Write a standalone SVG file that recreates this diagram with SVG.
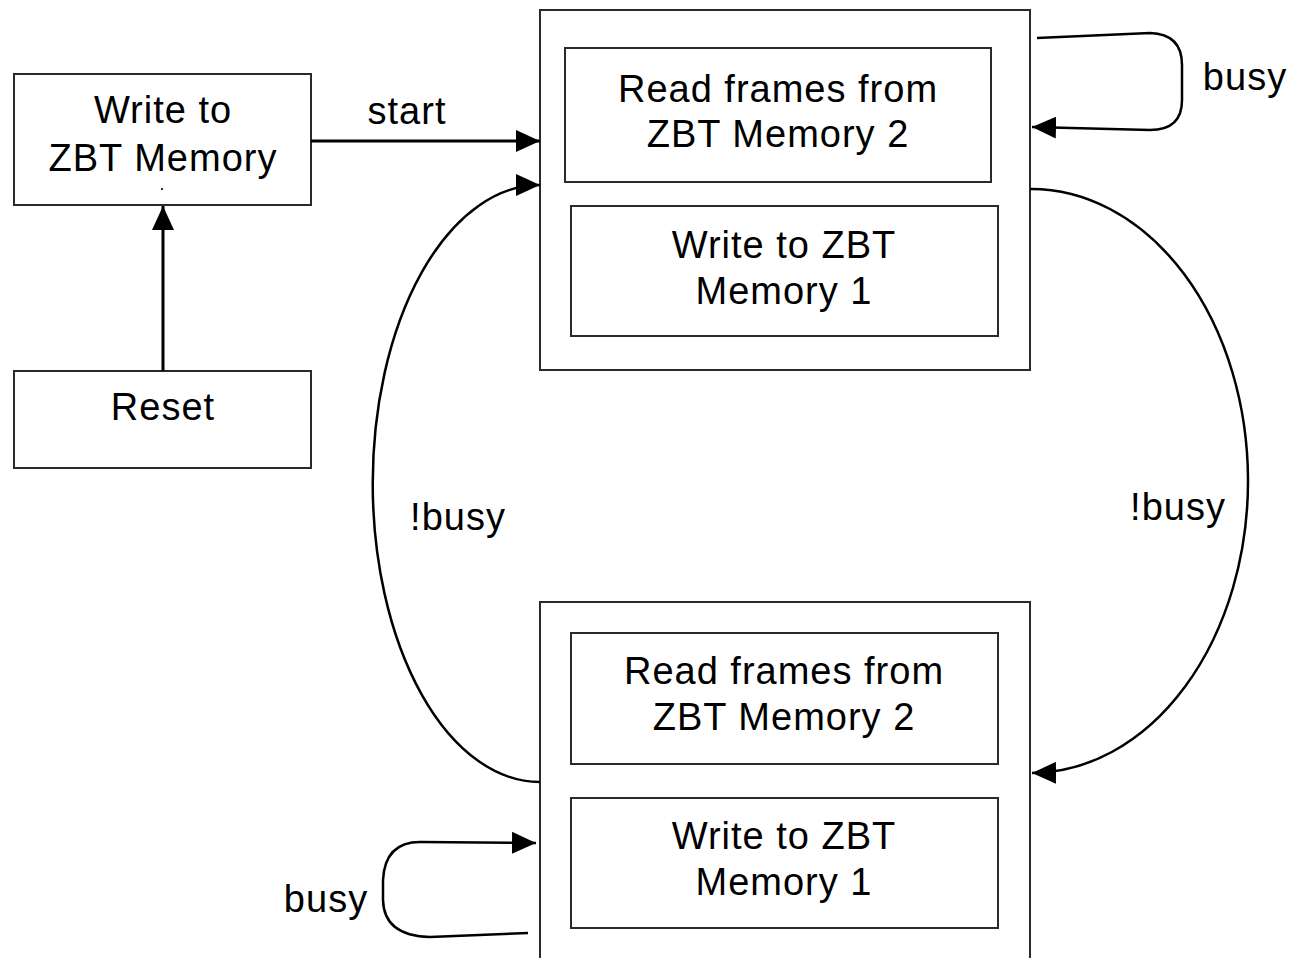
<svg xmlns="http://www.w3.org/2000/svg" width="1291" height="958" viewBox="0 0 1291 958">
  <style>
    .box { fill: none; stroke: #2a2a2a; stroke-width: 2; }
    .lbl { font-family: "Liberation Sans", Arial, sans-serif; font-size: 38px; letter-spacing: 1px; fill: #000; text-anchor: middle; }
    .edge { fill: none; stroke: #000; stroke-width: 3; }
    .curve { fill: none; stroke: #000; stroke-width: 2.5; }
  </style>
  <defs>
    <marker id="arrow" markerUnits="userSpaceOnUse" markerWidth="26" markerHeight="22" refX="24" refY="11" orient="auto">
      <path d="M0,0 L24,11 L0,22 Z" fill="#000"/>
    </marker>
  </defs>
  <rect width="1291" height="958" fill="#fff"/>

  <!-- start-up states -->
  <g id="write-zbt">
    <rect class="box" x="14" y="74" width="297" height="131"/>
    <text class="lbl" x="163" y="123">Write to</text>
    <text class="lbl" x="163" y="171">ZBT Memory</text>
    <rect x="161" y="188" width="2" height="2" fill="#333"/>
  </g>
  <g id="reset">
    <rect class="box" x="14" y="371" width="297" height="97"/>
    <text class="lbl" x="163" y="420">Reset</text>
  </g>

  <!-- upper double-buffer state -->
  <g id="state-a">
    <rect class="box" x="540" y="10" width="490" height="360"/>
    <rect class="box" x="565" y="48" width="426" height="134"/>
    <text class="lbl" x="778" y="102">Read frames from</text>
    <text class="lbl" x="778" y="147">ZBT Memory 2</text>
    <rect class="box" x="571" y="206" width="427" height="130"/>
    <text class="lbl" x="784" y="258">Write to ZBT</text>
    <text class="lbl" x="784" y="304">Memory 1</text>
  </g>

  <!-- lower double-buffer state -->
  <g id="state-b">
    <rect class="box" x="540" y="602" width="490" height="380"/>
    <rect class="box" x="571" y="633" width="427" height="131"/>
    <text class="lbl" x="784" y="684">Read frames from</text>
    <text class="lbl" x="784" y="730">ZBT Memory 2</text>
    <rect class="box" x="571" y="798" width="427" height="130"/>
    <text class="lbl" x="784" y="849">Write to ZBT</text>
    <text class="lbl" x="784" y="895">Memory 1</text>
  </g>

  <!-- transitions -->
  <g id="connectors">
    <line class="edge" x1="163" y1="371" x2="163" y2="206" marker-end="url(#arrow)"/>
    <line class="edge" x1="311" y1="141" x2="540" y2="141" marker-end="url(#arrow)"/>
    <text class="lbl" x="407" y="124">start</text>

    <path class="curve" d="M1037,38 L1150,33 Q1182,34 1182,65 L1182,100 Q1182,130 1150,130 L1032,127" marker-end="url(#arrow)"/>
    <text class="lbl" x="1245" y="90">busy</text>

    <path class="curve" d="M1030,189 A217,292 0 0 1 1032,773" marker-end="url(#arrow)"/>
    <text class="lbl" x="1178" y="520">!busy</text>

    <path class="curve" d="M540,782 A167,298 0 0 1 540,185" marker-end="url(#arrow)"/>
    <text class="lbl" x="458" y="530">!busy</text>

    <path class="curve" d="M528,933 L430,937 Q384,936 383,900 L383,880 Q385,842 420,842 L536,843" marker-end="url(#arrow)"/>
    <text class="lbl" x="326" y="912">busy</text>
  </g>
</svg>
